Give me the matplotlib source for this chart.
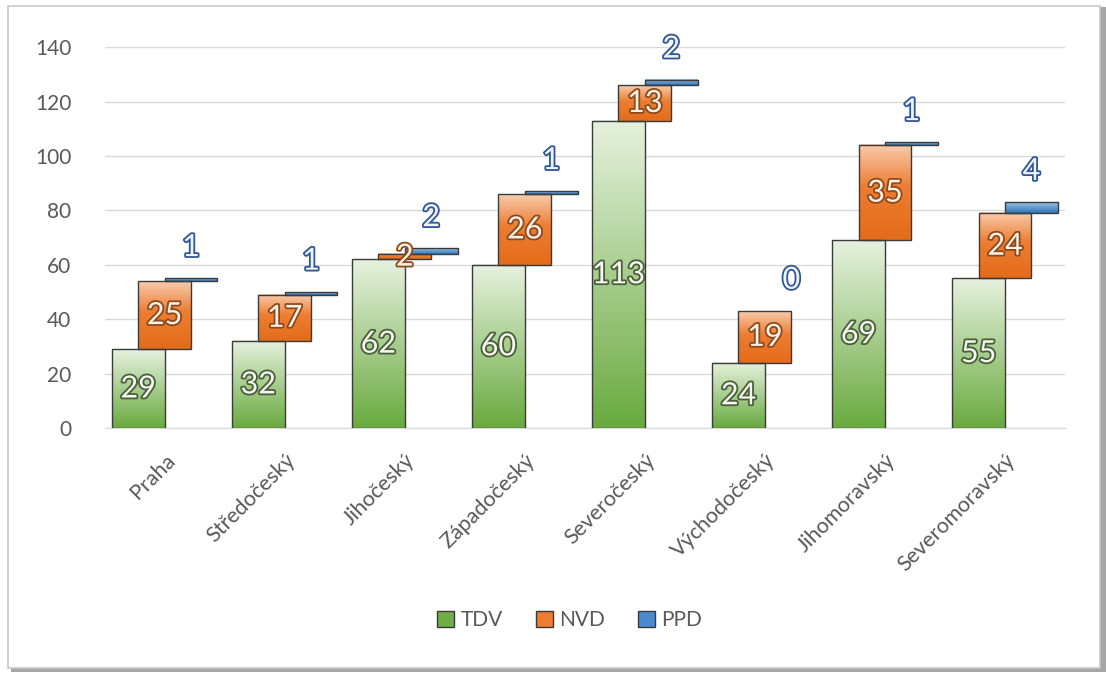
import numpy as np
import matplotlib.pyplot as plt
import matplotlib.patheffects as pe
from matplotlib.colors import LinearSegmentedColormap
from matplotlib.patches import Patch, Rectangle

regions = ["Praha", "Středočeský", "Jihočeský", "Západočeský", "Severočeský",
           "Východočeský", "Jihomoravský", "Severomoravský"]
tdv = [29, 32, 62, 60, 113, 24, 69, 55]
nvd = [25, 17, 2, 26, 13, 19, 35, 24]
ppd = [1, 1, 2, 1, 2, 0, 1, 4]

plt.rcParams['font.family'] = ['Lato', 'DejaVu Sans']

fig = plt.figure(figsize=(11.06, 6.75), dpi=100)

# frame with a soft shadow like the office chart border
fig.patches.append(Rectangle((0.010, 0.004), 0.990, 0.985, transform=fig.transFigure,
                             facecolor='#a6a6a6', edgecolor='none', zorder=-3))
fig.patches.append(Rectangle((0.007, 0.010), 0.988, 0.981, transform=fig.transFigure,
                             facecolor='white', edgecolor='#c8c8c8', lw=1.2, zorder=-2))

ax = fig.add_axes([0.0945, 0.366, 0.8685, 0.564])
ax.set_facecolor('none')

green = LinearSegmentedColormap.from_list('g', [(0, '#6aaa40'), (1, '#e6f1de')])
orange = LinearSegmentedColormap.from_list('o', [(0, '#e46c1a'), (0.55, '#ed7d31'), (1, '#f8cbad')])
blue = LinearSegmentedColormap.from_list('b', [(0, '#2e75b6'), (1, '#9dc3e6')])

w = 0.44
x = np.arange(len(regions))
grad = np.linspace(0, 1, 100).reshape(-1, 1)


def gradient_bars(xs, bottoms, heights, cmap):
    for xi, b, h in zip(xs, bottoms, heights):
        if h <= 0:
            continue
        ax.imshow(grad, cmap=cmap, origin='lower', aspect='auto',
                  extent=(xi - w / 2, xi + w / 2, b, b + h), zorder=2)
        ax.add_patch(Rectangle((xi - w / 2, b), w, h, fill=False,
                               edgecolor='#3a3a3a', lw=1.0, zorder=3))


tdv_a = np.array(tdv)
nvd_a = np.array(nvd)
ppd_a = np.array(ppd)

gradient_bars(x - w / 2, np.zeros(len(x)), tdv_a, green)
gradient_bars(x, tdv_a, nvd_a, orange)
gradient_bars(x + w / 2, tdv_a + nvd_a, ppd_a, blue)


def label(xi, yi, s, fill, stroke):
    ax.text(xi, yi, s, ha='center', va='center', fontsize=22, color=fill, zorder=5,
            path_effects=[pe.Stroke(linewidth=2.6, foreground=stroke), pe.Normal()])


for i in range(len(x)):
    label(x[i] - w / 2, tdv[i] / 2, str(tdv[i]), '#f4f8f0', '#4b5e3a')
    label(x[i], tdv[i] + nvd[i] / 2, str(nvd[i]), '#fdf0e6', '#8c4a1c')
    label(x[i] + w / 2, tdv[i] + nvd[i] + ppd[i] + 11.5, str(ppd[i]), '#eef3fa', '#2f5597')

ax.set_xlim(-0.5, 7.5)
ax.set_ylim(0, 140)
ax.set_yticks(range(0, 141, 20))
ax.yaxis.grid(True, color='#d9d9d9', lw=1.0, zorder=0)
ax.set_axisbelow(True)
for s in ['top', 'right', 'left']:
    ax.spines[s].set_visible(False)
ax.spines['bottom'].set_color('#d9d9d9')
ax.tick_params(axis='y', length=0, pad=24, labelsize=15, labelcolor='#595959')
ax.tick_params(axis='x', length=0, pad=16, labelsize=15.5, labelcolor='#595959')
ax.set_xticks(x)
ax.set_xticklabels(regions, rotation=45, ha='right', rotation_mode='anchor')

handles = [Patch(facecolor='#70ad47', edgecolor='#3a3a3a', label='TDV'),
           Patch(facecolor='#ed7d31', edgecolor='#3a3a3a', label='NVD'),
           Patch(facecolor='#4a8ad0', edgecolor='#3a3a3a', label='PPD')]
leg = fig.legend(handles=handles, loc='center', bbox_to_anchor=(0.515, 0.081), ncol=3,
                 frameon=False, fontsize=15, handlelength=0.8, handleheight=0.8,
                 handletextpad=0.3, columnspacing=1.6)
for t in leg.get_texts():
    t.set_color('#595959')

fig.savefig('out.png', dpi=100)
